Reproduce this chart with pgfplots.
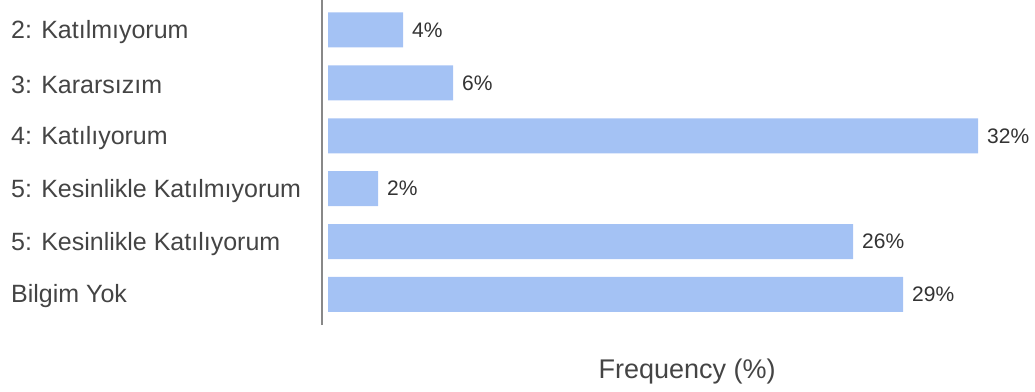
\documentclass[border=0pt]{standalone}
\usepackage{pgfplots}
\pgfplotsset{compat=1.18}
\usepackage{fontspec}
\setmainfont{Liberation Sans}
\definecolor{barblue}{HTML}{A4C2F4}
\definecolor{axgray}{HTML}{888888}
\definecolor{lab}{HTML}{444444}
\definecolor{val}{HTML}{333333}
\begin{document}
\begin{tikzpicture}
\useasboundingbox (0,0) rectangle (1035pt,-391pt);
\begin{axis}[
  at={(322pt,0pt)}, anchor=north west,
  scale only axis, width=713pt, height=325pt,
  xmin=-0.3, xmax=35.35,
  ymin=-0.567, ymax=5.577, y dir=reverse,
  axis line style={draw=none},
  xtick=\empty,
  ytick={0,1,2,3,4,5},
  yticklabels={2: Katılmıyorum, 3: Kararsızım, 4: Katılıyorum, 5: Kesinlikle Katılmıyorum, 5: Kesinlikle Katılıyorum, Bilgim Yok},
  major tick length=0pt,
  tick style={draw=none},
  yticklabel style={anchor=west, inner sep=0pt, xshift=-311pt, yshift=-2pt, font=\fontsize{25}{30}\selectfont, text=lab},
  clip=false,
  xbar, bar width=35pt,
]
\addplot[fill=barblue, draw=none, nodes near coords, point meta=explicit symbolic,
  nodes near coords style={anchor=west, inner sep=0pt, xshift=9pt, font=\fontsize{21}{25}\selectfont, text=val}]
  coordinates {(3.75,0)[4\%] (6.25,1)[6\%] (32.5,2)[32\%] (2.5,3)[2\%] (26.25,4)[26\%] (28.75,5)[29\%]};
\draw[axgray, line width=2.5pt] (axis description cs:0,0) -- (axis description cs:0,1);
\node[anchor=base, font=\fontsize{27}{32}\selectfont, text=lab] at (axis description cs:0.512,0) [yshift=-53pt] {Frequency (\%)};
\end{axis}
\end{tikzpicture}
\end{document}
